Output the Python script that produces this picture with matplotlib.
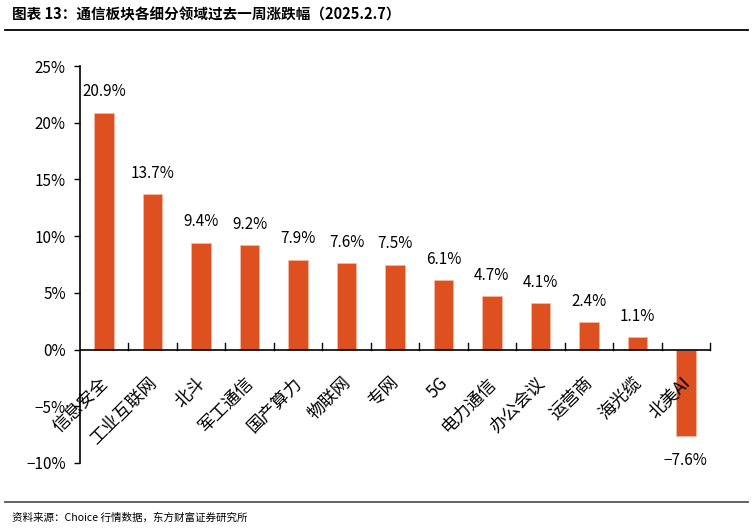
import matplotlib
matplotlib.use("Agg")
import matplotlib.pyplot as plt
from matplotlib.ticker import FuncFormatter, MultipleLocator

plt.rcParams['font.family'] = ['Noto Sans CJK SC', 'DejaVu Sans']
plt.rcParams['axes.unicode_minus'] = True

categories = ["信息安全", "工业互联网", "北斗", "军工通信", "国产算力", "物联网", "专网",
              "5G", "电力通信", "办公会议", "运营商", "海光缆", "北美AI"]
values = [20.9, 13.7, 9.4, 9.2, 7.9, 7.6, 7.5, 6.1, 4.7, 4.1, 2.4, 1.1, -7.6]

title = "图表 13：通信板块各细分领域过去一周涨跌幅（2025.2.7）"
source = "资料来源：Choice 行情数据，东方财富证券研究所"
bar_color = "#DE5020"

fig = plt.figure(figsize=(7.53, 5.29), dpi=100)
ax = fig.add_axes([0.106, 0.125, 0.837, 0.75])

x = list(range(len(categories)))
ax.bar(x, values, width=0.4, color=bar_color, edgecolor="#F5B8A0", linewidth=0.6, zorder=2)

ax.set_xlim(-0.5, len(categories) - 0.5)
ax.set_ylim(-10, 25)
ax.yaxis.set_major_locator(MultipleLocator(5))
ax.yaxis.set_major_formatter(FuncFormatter(lambda v, p: f"{v:.0f}%".replace("-", "\u2212")))
ax.tick_params(axis='y', direction='out', length=4, width=1, labelsize=11, pad=6)

for s in ['top', 'right', 'bottom']:
    ax.spines[s].set_visible(False)
ax.spines['left'].set_linewidth(1.2)
ax.axhline(0, color='black', linewidth=1.2, zorder=3)
ax.set_xticks([])

# category separator ticks on zero line (pointing up)
for i in range(1, len(categories) + 1):
    ax.plot([i - 0.5, i - 0.5], [0, 0.6], color='black', linewidth=1, zorder=3, clip_on=False)

# rotated category labels
for i, c in enumerate(categories):
    ax.annotate(c, xy=(i, 0), xytext=(1, -22), textcoords='offset points',
                rotation=45, rotation_mode='anchor', ha='right', va='center',
                fontsize=12.5, zorder=4)

# value labels
for i, v in enumerate(values):
    if v >= 0:
        ax.annotate(f"{v:.1f}%", xy=(i, v), xytext=(0, 9), textcoords='offset points',
                    ha='center', va='bottom', fontsize=11)
    else:
        ax.annotate(f"{v:.1f}%".replace("-", "\u2212"), xy=(i, v), xytext=(0, -12),
                    textcoords='offset points', ha='center', va='top', fontsize=11)

fig.text(0.016, 0.972, title, fontsize=10.5, fontweight='bold', ha='left', va='center')
fig.add_artist(plt.Line2D([0.007, 0.993], [0.943, 0.943], color='black', linewidth=1.3))
fig.add_artist(plt.Line2D([0.007, 0.993], [0.051, 0.051], color='#555555', linewidth=1.3))
fig.text(0.016, 0.022, source, fontsize=7.6, ha='left', va='center')

fig.savefig("out.png", dpi=100)
